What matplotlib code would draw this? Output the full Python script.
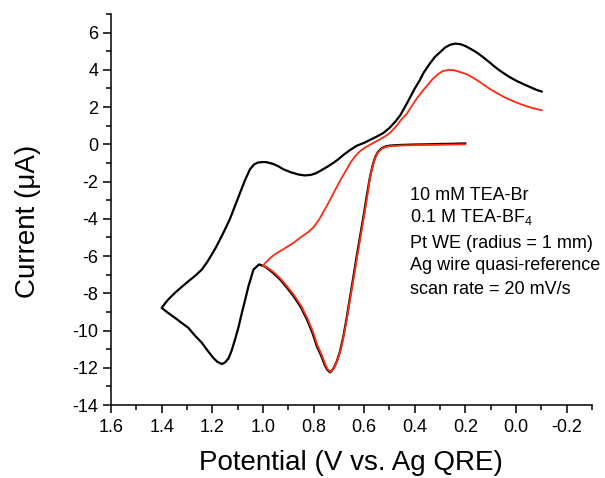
import matplotlib
matplotlib.use("Agg")
import matplotlib.pyplot as plt
from matplotlib.ticker import MultipleLocator

plt.rcParams['font.family'] = ['Liberation Sans', 'DejaVu Sans']
plt.rcParams['mathtext.fontset'] = 'custom'
plt.rcParams['mathtext.rm'] = 'Liberation Sans'
plt.rcParams['mathtext.it'] = 'Liberation Sans'

# Black CV (scan reversed at 1.4 V)
black_E = [0.20, 0.25, 0.30, 0.35, 0.40, 0.45, 0.48, 0.50, 0.515, 0.53, 0.545, 0.555, 0.565, 0.577,
           0.589, 0.60, 0.61, 0.62, 0.63, 0.64, 0.655, 0.67, 0.682, 0.695, 0.708, 0.72, 0.734, 0.745,
           0.754, 0.77, 0.787, 0.805, 0.826, 0.85, 0.879, 0.905, 0.932, 0.96, 0.99, 1.015, 1.037, 1.057,
           1.07, 1.083, 1.096, 1.11, 1.124, 1.136, 1.15, 1.162, 1.18, 1.196, 1.22, 1.241, 1.27, 1.294,
           1.32, 1.347, 1.375, 1.40,
           1.375, 1.347, 1.32, 1.294, 1.265, 1.241, 1.22, 1.202, 1.185, 1.169, 1.15, 1.13, 1.11, 1.09,
           1.07, 1.051, 1.035, 1.02, 1.00, 0.985, 0.96, 0.94, 0.919, 0.89, 0.86, 0.835, 0.81, 0.79,
           0.77, 0.745, 0.72, 0.70, 0.68, 0.655, 0.63, 0.60, 0.575, 0.55, 0.525, 0.50, 0.475, 0.458,
           0.431, 0.40, 0.38, 0.365, 0.34, 0.32, 0.30, 0.28, 0.26, 0.24, 0.22, 0.20, 0.18, 0.155,
           0.13, 0.10, 0.08, 0.062, 0.03, 0.00, -0.03, -0.06, -0.08, -0.102]
black_I = [0.05, 0.03, 0.02, 0.00, -0.01, -0.03, -0.05, -0.07, -0.11, -0.20, -0.40, -0.65, -1.05, -1.75,
           -2.70, -3.65, -4.45, -5.25, -6.05, -6.90, -8.15, -9.40, -10.30, -11.10, -11.65, -12.02, -12.25, -12.12,
           -11.90, -11.35, -10.84, -10.10, -9.41, -8.75, -8.15, -7.70, -7.26, -6.90, -6.58, -6.45, -6.72, -7.62,
           -8.35, -9.05, -9.80, -10.48, -11.10, -11.50, -11.72, -11.80, -11.68, -11.47, -11.05, -10.66, -10.25, -9.86,
           -9.60, -9.32, -9.05, -8.78,
           -8.35, -7.97, -7.65, -7.35, -7.03, -6.72, -6.32, -5.92, -5.52, -5.10, -4.58, -4.00, -3.30, -2.60,
           -1.90, -1.34, -1.08, -0.98, -0.95, -0.96, -1.05, -1.17, -1.34, -1.50, -1.62, -1.67, -1.64, -1.55,
           -1.40, -1.20, -0.98, -0.78, -0.55, -0.30, -0.08, 0.08, 0.25, 0.42, 0.60, 0.88, 1.25, 1.55,
           2.20, 3.00, 3.45, 3.85, 4.35, 4.70, 4.95, 5.20, 5.35, 5.41, 5.38, 5.28, 5.13, 4.93,
           4.68, 4.35, 4.12, 3.94, 3.65, 3.42, 3.23, 3.05, 2.93, 2.83]

# Red CV (scan reversed at 1.0 V)
red_E = [0.20, 0.25, 0.30, 0.35, 0.40, 0.45, 0.48, 0.50, 0.515, 0.53, 0.545, 0.555, 0.565, 0.577,
         0.587, 0.598, 0.608, 0.618, 0.628, 0.638, 0.653, 0.668, 0.68, 0.693, 0.706, 0.718, 0.732, 0.743,
         0.752, 0.768, 0.785, 0.803, 0.824, 0.848, 0.877, 0.903, 0.93, 0.958, 0.985, 1.00,
         0.98, 0.96, 0.94, 0.919, 0.90, 0.88, 0.853, 0.82, 0.80, 0.787, 0.774, 0.76, 0.745, 0.734, 0.72,
         0.708, 0.695, 0.68, 0.665, 0.655, 0.64, 0.625, 0.61, 0.59, 0.563, 0.537, 0.515, 0.497, 0.475,
         0.455, 0.431, 0.41, 0.39, 0.37, 0.352, 0.33, 0.31, 0.29, 0.267, 0.245, 0.22, 0.194, 0.17,
         0.14, 0.12, 0.102, 0.075, 0.05, 0.025, -0.003, -0.03, -0.06, -0.08, -0.102]
red_I = [0.00, -0.01, -0.02, -0.03, -0.04, -0.06, -0.08, -0.10, -0.14, -0.23, -0.43, -0.68, -1.08, -1.78,
         -2.72, -3.66, -4.46, -5.26, -6.06, -6.90, -8.12, -9.35, -10.25, -11.05, -11.60, -11.98, -12.22, -12.10,
         -11.87, -11.30, -10.78, -10.04, -9.35, -8.70, -8.10, -7.65, -7.22, -6.86, -6.60, -6.52,
         -6.22, -5.98, -5.80, -5.63, -5.47, -5.30, -5.02, -4.70, -4.45, -4.21, -3.95, -3.60, -3.25, -2.96, -2.60,
         -2.28, -1.95, -1.60, -1.25, -1.00, -0.72, -0.48, -0.30, -0.12, 0.08, 0.27, 0.45, 0.63, 0.95,
         1.30, 1.65, 2.10, 2.50, 2.85, 3.14, 3.50, 3.75, 3.93, 4.00, 3.98, 3.88, 3.76, 3.58,
         3.32, 3.13, 2.96, 2.75, 2.56, 2.40, 2.24, 2.10, 1.97, 1.90, 1.83]

x_ticks = [1.6, 1.4, 1.2, 1.0, 0.8, 0.6, 0.4, 0.2, 0.0, -0.2]
y_ticks = [-14, -12, -10, -8, -6, -4, -2, 0, 2, 4, 6]

annot = ["10 mM TEA-Br", "0.1 M TEA-BF$_4$", "Pt WE (radius = 1 mm)",
         "Ag wire quasi-reference", "scan rate = 20 mV/s"]

fig = plt.figure(figsize=(6.05, 4.78), dpi=100)
ax = fig.add_axes([111/605, 1-405/478, (592-111)/605, (405-14)/478])

ax.plot(black_E, black_I, color='black', lw=1.6, zorder=2,
        solid_joinstyle='round', solid_capstyle='round')
ax.plot(red_E, red_I, color='#ff2a10', lw=1.3, zorder=3,
        solid_joinstyle='round', solid_capstyle='round')

ax.set_xlim(1.6, -0.3)
ax.set_ylim(-14, 7)
ax.set_xticks(x_ticks)
ax.set_xticklabels([f"{v:.1f}" for v in x_ticks])
ax.set_yticks(y_ticks)
ax.set_yticklabels([str(v) for v in y_ticks])
ax.xaxis.set_minor_locator(MultipleLocator(0.1))
ax.yaxis.set_minor_locator(MultipleLocator(1))

for s in ['top', 'right']:
    ax.spines[s].set_visible(False)
for s in ['left', 'bottom']:
    ax.spines[s].set_linewidth(1.1)

ax.tick_params(which='major', direction='out', length=6, width=1.1, labelsize=13, pad=3)
ax.tick_params(which='minor', direction='out', length=3.5, width=1.1)
ax.tick_params(axis='x', which='major', pad=4)

ax.set_xlabel("Potential (V vs. Ag QRE)", fontsize=20)
ax.set_ylabel("Current (μA)", fontsize=20)
ax.xaxis.set_label_coords(0.499, -0.115)
ax.yaxis.set_label_coords(-0.145, 0.47)

ys = [195, 217, 243, 266, 289]
for t, yp in zip(annot, ys):
    fig.text(410/605, 1-yp/478, t, fontsize=13, ha='left', va='center')

fig.savefig("out.png", dpi=100)
